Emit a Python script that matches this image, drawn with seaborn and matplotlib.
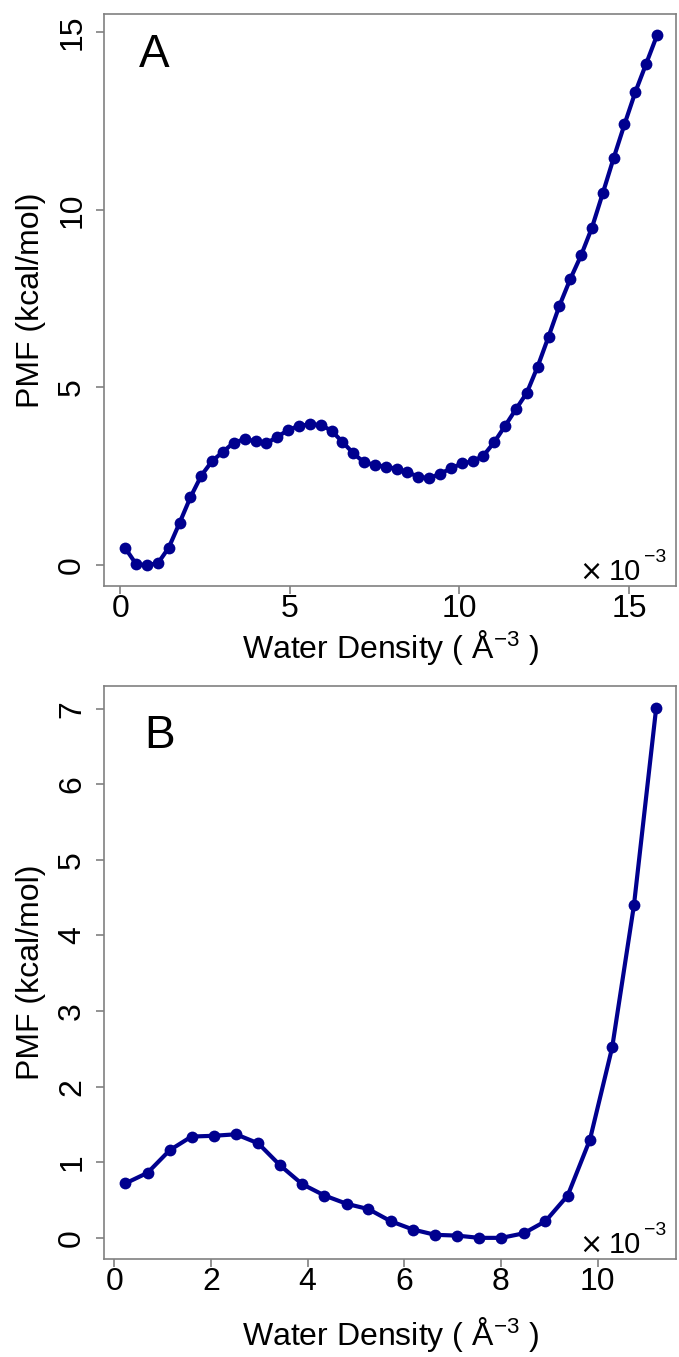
import matplotlib
matplotlib.use('Agg')
import numpy as np
import pandas as pd
import seaborn as sns
import matplotlib.pyplot as plt

# panel A: water density (x 1e-3 A^-3) and PMF (kcal/mol)
dens_a = [0.15, 0.47, 0.79, 1.11, 1.43, 1.75, 2.07, 2.39, 2.71, 3.03,
          3.35, 3.67, 3.99, 4.31, 4.63, 4.95, 5.27, 5.59, 5.91, 6.23,
          6.55, 6.87, 7.19, 7.51, 7.83, 8.15, 8.47, 8.79, 9.11, 9.43,
          9.75, 10.07, 10.39, 10.71, 11.03, 11.35, 11.67, 11.99, 12.31, 12.63,
          12.95, 13.27, 13.59, 13.91, 14.23, 14.55, 14.87, 15.19, 15.51, 15.83]
pmf_a = [0.47, 0.02, 0.00, 0.05, 0.49, 1.19, 1.91, 2.52, 2.93, 3.19,
         3.45, 3.54, 3.49, 3.43, 3.61, 3.80, 3.92, 3.96, 3.95, 3.78,
         3.47, 3.15, 2.89, 2.82, 2.77, 2.71, 2.61, 2.49, 2.44, 2.57,
         2.72, 2.86, 2.92, 3.08, 3.46, 3.92, 4.39, 4.85, 5.59, 6.43,
         7.30, 8.05, 8.72, 9.50, 10.47, 11.46, 12.41, 13.32, 14.12, 14.92]

# panel B
dens_b = [0.23, 0.69, 1.15, 1.60, 2.06, 2.52, 2.98, 3.43, 3.89, 4.35,
          4.81, 5.26, 5.72, 6.18, 6.64, 7.09, 7.55, 8.01, 8.47, 8.92,
          9.38, 9.84, 10.30, 10.75, 11.21]
pmf_b = [0.72, 0.86, 1.16, 1.34, 1.35, 1.37, 1.25, 0.96, 0.71, 0.56,
         0.45, 0.38, 0.22, 0.11, 0.04, 0.03, 0.00, 0.00, 0.06, 0.22,
         0.56, 1.30, 2.52, 4.40, 7.01]

sns.set_style('ticks')
plt.rcParams['font.family'] = ['Liberation Sans', 'DejaVu Sans']
plt.rcParams['mathtext.fontset'] = 'custom'
plt.rcParams['mathtext.rm'] = 'Liberation Sans'
plt.rcParams['mathtext.it'] = 'Liberation Sans'
for k in ['text.color', 'axes.labelcolor', 'xtick.labelcolor', 'ytick.labelcolor']:
    plt.rcParams[k] = 'black'

line_col = '#00008f'
frame_col = '#808080'

fig = plt.figure(figsize=(6.79, 13.57), dpi=100)
ax_a = fig.add_axes([0.1539, 0.5682, 0.8417, 0.4215])
ax_b = fig.add_axes([0.1539, 0.0722, 0.8417, 0.4223])

panels = [
    (ax_a, dens_a, pmf_a, 'A', (-0.466, 16.39), (-0.59, 15.52), [0, 5, 10, 15], [0, 5, 10, 15], (0.060, 0.907), 2.5),
    (ax_b, dens_b, pmf_b, 'B', (-0.20, 11.62), (-0.28, 7.30), [0, 2, 4, 6, 8, 10], list(range(8)), (0.069, 0.892), 13),
]

for ax, x, y, tag, xlim, ylim, xt, yt, tagpos, xlpad in panels:
    df = pd.DataFrame({'density': x, 'pmf': y})
    sns.lineplot(data=df, x='density', y='pmf', ax=ax, color=line_col,
                 linewidth=3.0, marker='o', markersize=8.5,
                 markeredgecolor=line_col, markeredgewidth=0)
    ax.set_xlim(*xlim)
    ax.set_ylim(*ylim)
    ax.set_xticks(xt)
    ax.set_yticks(yt)
    ax.tick_params(axis='both', labelsize=23, length=6, width=1.2,
                   color=frame_col)
    ax.tick_params(axis='x', pad=0)
    ax.tick_params(axis='y', pad=6.5, labelrotation=90)
    for lab in ax.get_yticklabels():
        lab.set_va('center')
    for sp in ax.spines.values():
        sp.set_color(frame_col)
        sp.set_linewidth(1.2)
    ax.set_xlabel('Water Density ( Å$^{-3}$ )', fontsize=23, labelpad=xlpad)
    ax.set_ylabel('PMF (kcal/mol)', fontsize=23, labelpad=8)
    ax.text(tagpos[0], tagpos[1], tag, transform=ax.transAxes, fontsize=33,
            ha='left', va='baseline')
    # exponent note in the lower right corner: "× 10^-3"
    ax.annotate('10', xy=(1, 0), xycoords='axes fraction',
                xytext=(-25, 4.3), textcoords='offset points',
                fontsize=21, ha='right', va='baseline')
    ax.annotate('−3', xy=(1, 0), xycoords='axes fraction',
                xytext=(-23, 17.3), textcoords='offset points',
                fontsize=14, ha='left', va='baseline')
    ax.annotate('×', xy=(1, 0), xycoords='axes fraction',
                xytext=(-61, 10.4), textcoords='offset points',
                fontsize=20, ha='center', va='center', family='DejaVu Sans')

fig.savefig('out.png', dpi=100)
